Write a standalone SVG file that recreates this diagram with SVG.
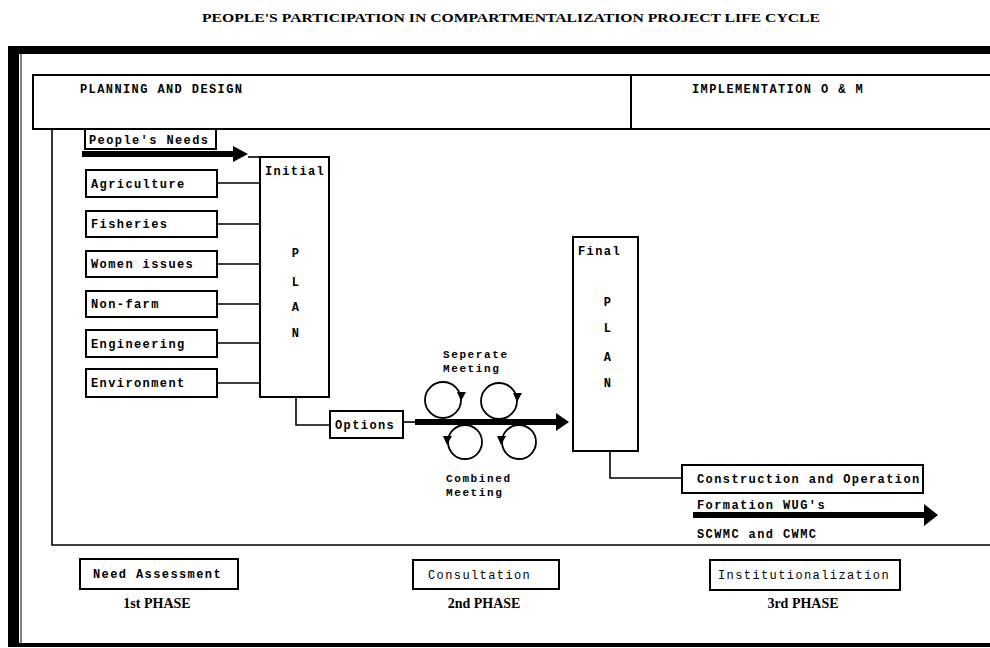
<svg xmlns="http://www.w3.org/2000/svg" width="990" height="648" viewBox="0 0 990 648">
<defs>
<style>
.t{font-family:"Liberation Mono","DejaVu Sans Mono",monospace;font-size:12px;font-weight:bold;letter-spacing:1.4px;fill:#000}
.tn{font-weight:normal}
.sm{font-size:11px;letter-spacing:1.6px}
.ph{font-family:"Liberation Serif","Times New Roman",serif;font-size:14px;font-weight:bold;fill:#000;text-anchor:middle}
.box{fill:#fff;stroke:#000;stroke-width:2}
.ln{fill:none;stroke:#000;stroke-width:1.6}
.thick{fill:none;stroke:#000;stroke-width:6}
.c{fill:none;stroke:#000;stroke-width:1.8}
.mid{text-anchor:middle}
</style>
</defs>
<rect x="0" y="0" width="990" height="648" fill="#fff"/>
<text x="511" y="22" font-family="Liberation Serif,'Times New Roman',serif" font-size="13" font-weight="bold" text-anchor="middle" textLength="618" lengthAdjust="spacingAndGlyphs">PEOPLE'S PARTICIPATION IN COMPARTMENTALIZATION PROJECT LIFE CYCLE</text>

<g id="frame">
<rect x="8" y="46" width="982" height="8" fill="#000"/>
<rect x="8" y="46" width="11" height="601" fill="#000"/>
<rect x="8" y="643" width="982" height="4" fill="#000"/>
<line x1="21" y1="54" x2="21" y2="643" stroke="#000" stroke-width="1"/>
</g>

<g id="header">
<rect x="33" y="75" width="970" height="54" class="box"/>
<line x1="631" y1="75" x2="631" y2="129" stroke="#000" stroke-width="2"/>
<text x="80" y="93" class="t">PLANNING AND DESIGN</text>
<text x="692" y="93" class="t">IMPLEMENTATION O &amp; M</text>
</g>

<g id="panel">
<path d="M52 129 V545 H990" class="ln"/>
</g>

<g id="connectors">
<line x1="82" y1="154" x2="236" y2="154" class="thick"/>
<polygon points="233,146 248,154 233,162" fill="#000"/>
<line x1="248" y1="157" x2="260" y2="157" class="ln"/>
<line x1="217" y1="183" x2="260" y2="183" class="ln"/>
<line x1="217" y1="224" x2="260" y2="224" class="ln"/>
<line x1="217" y1="264" x2="260" y2="264" class="ln"/>
<line x1="217" y1="304" x2="260" y2="304" class="ln"/>
<line x1="217" y1="343" x2="260" y2="343" class="ln"/>
<line x1="217" y1="383" x2="260" y2="383" class="ln"/>
<path d="M296 397 V425 H330" class="ln"/>
<line x1="403" y1="422" x2="415" y2="422" class="ln"/>
<line x1="415" y1="422" x2="558" y2="422" class="thick"/>
<polygon points="556,413 569,422 556,431" fill="#000"/>
<path d="M610 451 V478 H682" class="ln"/>
<line x1="693" y1="515" x2="927" y2="515" class="thick"/>
<polygon points="924,504 938,515 924,526" fill="#000"/>
</g>

<g id="cycles">
<circle cx="443" cy="400" r="18" class="c"/>
<polygon points="457,392 466,392 461,401" fill="#000"/>
<circle cx="499" cy="401" r="18" class="c"/>
<polygon points="513,393 522,393 517,402" fill="#000"/>
<circle cx="465" cy="442" r="17" class="c"/>
<polygon points="443,436 452,436 447,445" fill="#000"/>
<circle cx="519" cy="442" r="17" class="c"/>
<polygon points="497,436 506,436 501,445" fill="#000"/>
</g>

<g id="people-needs">
<rect x="85" y="129" width="131" height="20" class="box"/>
<text x="89" y="144" class="t">People's Needs</text>
</g>
<g id="agriculture">
<rect x="86" y="170" width="131" height="27" class="box"/>
<text x="91" y="188" class="t">Agriculture</text>
</g>
<g id="fisheries">
<rect x="86" y="211" width="131" height="26" class="box"/>
<text x="91" y="228" class="t">Fisheries</text>
</g>
<g id="women-issues">
<rect x="86" y="251" width="131" height="26" class="box"/>
<text x="91" y="268" class="t">Women issues</text>
</g>
<g id="non-farm">
<rect x="86" y="291" width="131" height="26" class="box"/>
<text x="91" y="308" class="t">Non-farm</text>
</g>
<g id="engineering">
<rect x="86" y="330" width="131" height="27" class="box"/>
<text x="91" y="348" class="t">Engineering</text>
</g>
<g id="environment">
<rect x="86" y="369" width="131" height="28" class="box"/>
<text x="91" y="387" class="t">Environment</text>
</g>

<g id="initial-plan">
<rect x="260" y="157" width="69" height="240" class="box"/>
<text x="265" y="175" class="t">Initial</text>
<text x="296" y="257" class="t mid">P</text>
<text x="296" y="286" class="t mid">L</text>
<text x="296" y="311" class="t mid">A</text>
<text x="296" y="337" class="t mid">N</text>
</g>

<g id="options">
<rect x="330" y="411" width="73" height="27" class="box"/>
<text x="335" y="429" class="t">Options</text>
</g>

<g id="meetings">
<text x="443" y="358" class="t sm">Seperate</text>
<text x="443" y="372" class="t sm">Meeting</text>
<text x="446" y="482" class="t sm">Combined</text>
<text x="446" y="496" class="t sm">Meeting</text>
</g>

<g id="final-plan">
<rect x="573" y="237" width="65" height="214" class="box"/>
<text x="578" y="255" class="t">Final</text>
<text x="608" y="306" class="t mid">P</text>
<text x="608" y="332" class="t mid">L</text>
<text x="608" y="361" class="t mid">A</text>
<text x="608" y="387" class="t mid">N</text>
</g>

<g id="construction">
<rect x="682" y="465" width="241" height="28" class="box"/>
<text x="697" y="483" class="t">Construction and Operation</text>
</g>
<g id="formation">
<text x="697" y="509" class="t">Formation WUG's</text>
<text x="697" y="538" class="t">SCWMC and CWMC</text>
</g>

<g id="phase1">
<rect x="80" y="559" width="158" height="30" class="box"/>
<text x="93" y="578" class="t">Need Assessment</text>
<text x="157" y="608" class="ph">1st PHASE</text>
</g>
<g id="phase2">
<rect x="413" y="560" width="146" height="29" class="box"/>
<text x="428" y="579" class="t tn">Consultation</text>
<text x="484" y="608" class="ph">2nd PHASE</text>
</g>
<g id="phase3">
<rect x="710" y="560" width="190" height="30" class="box"/>
<text x="718" y="579" class="t tn">Institutionalization</text>
<text x="803" y="608" class="ph">3rd PHASE</text>
</g>
</svg>
